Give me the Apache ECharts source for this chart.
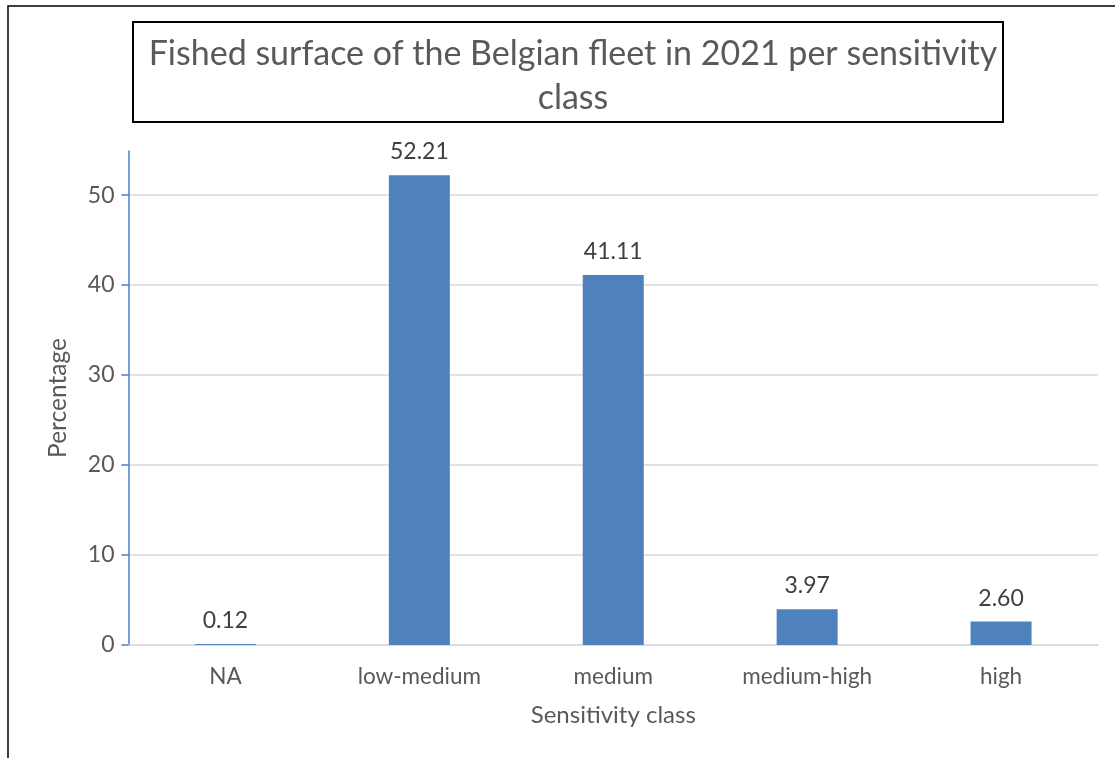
<!DOCTYPE html>
<html>
<head>
<meta charset="utf-8">
<script src="https://cdn.jsdelivr.net/npm/echarts@6/dist/echarts.min.js"></script>
<style>
  html, body { margin: 0; padding: 0; background: #fff; }
  #chart { width: 1115px; height: 758px; }
</style>
</head>
<body>
<div id="chart"></div>
<script>
const categories = ['NA', 'low-medium', 'medium', 'medium-high', 'high'];
const percentages = [0.12, 52.21, 41.11, 3.97, 2.60];
const yTicks = [0, 10, 20, 30, 40, 50];

const FONT = 'Lato';
const TEXT = '#595959';

const chart = echarts.init(document.getElementById('chart'));
chart.setOption({
  animation: false,
  textStyle: { fontFamily: FONT },
  title: {
    text: 'Fished surface of the Belgian fleet in 2021 per sensitivity\nclass',
    left: 568,
    top: 27,
    textAlign: 'center',
    textStyle: { fontFamily: FONT, fontSize: 34, fontWeight: 'normal', color: TEXT, lineHeight: 44 }
  },
  graphic: [
    { type: 'rect', shape: { x: 8, y: 6, width: 1200, height: 800 }, style: { fill: null, stroke: '#000', lineWidth: 1.5 }, silent: true },
    { type: 'rect', shape: { x: 133, y: 22, width: 870, height: 100 }, style: { fill: null, stroke: '#000', lineWidth: 2 }, silent: true }
  ],
  grid: { left: 128.5, right: 17, top: 151, bottom: 113, containLabel: false },
  xAxis: {
    type: 'category',
    data: categories,
    name: 'Sensitivity class',
    nameLocation: 'middle',
    nameGap: 58,
    nameTextStyle: { fontFamily: FONT, fontSize: 24, color: TEXT },
    axisLine: { lineStyle: { color: '#d9d9d9', width: 1.5 } },
    axisTick: { show: false },
    axisLabel: { fontFamily: FONT, fontSize: 22.5, color: TEXT, margin: 20 }
  },
  yAxis: {
    type: 'value',
    min: yTicks[0],
    max: 54.9,
    interval: 10,
    name: 'Percentage',
    nameLocation: 'middle',
    nameGap: 58,
    nameTextStyle: { fontFamily: FONT, fontSize: 24.5, color: TEXT },
    axisLine: { show: true, onZero: false, lineStyle: { color: '#4a7ebb', width: 1.5 } },
    axisTick: { show: true, length: 7, lineStyle: { color: '#4a7ebb', width: 1.5 } },
    axisLabel: { fontFamily: FONT, fontSize: 23, color: TEXT, margin: 14, showMaxLabel: false,
      formatter: v => yTicks.includes(v) ? String(v) : '' },
    splitLine: { showMaxLine: false, lineStyle: { color: '#d9d9d9', width: 1.5 } }
  },
  series: [{
    type: 'bar',
    data: percentages,
    barWidth: 61,
    itemStyle: { color: '#4f81bd' },
    label: {
      show: true,
      position: 'top',
      distance: 12,
      fontFamily: FONT,
      fontSize: 23,
      color: '#404040',
      formatter: p => p.value.toFixed(2)
    }
  }]
});
</script>
</body>
</html>
